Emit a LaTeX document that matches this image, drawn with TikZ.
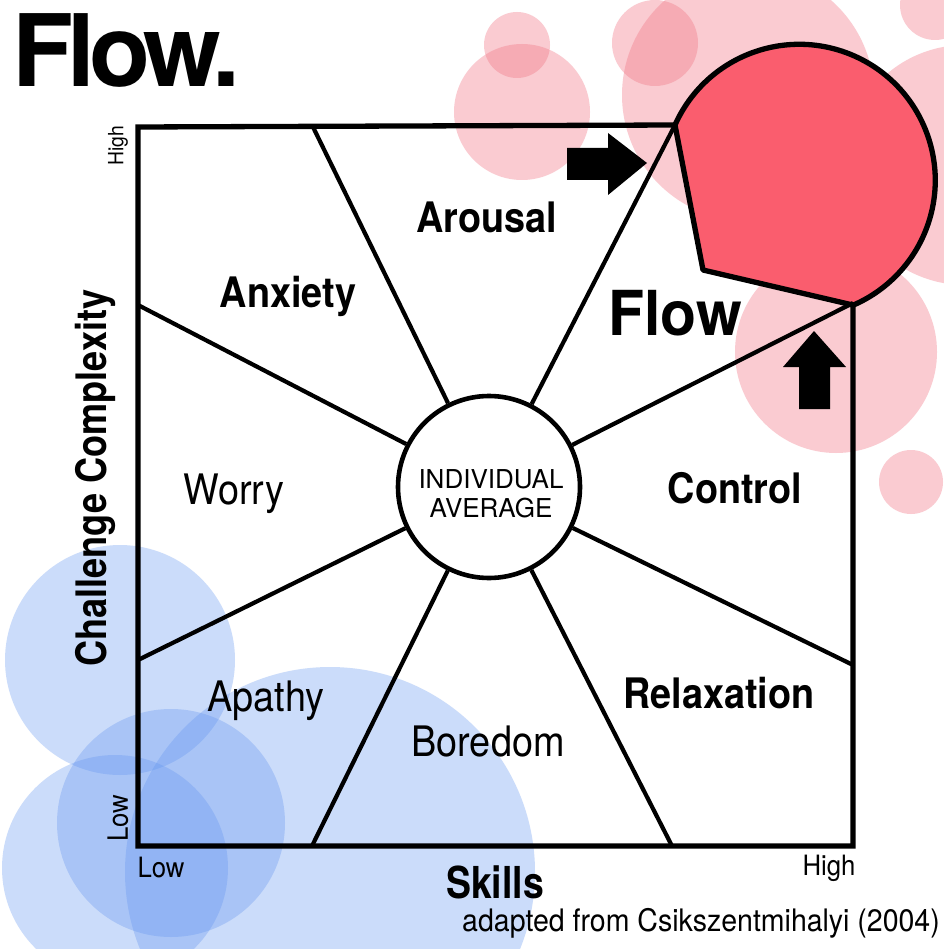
\documentclass[tikz,border=0pt]{standalone}
\usepackage{fontspec}
\setmainfont{TeX Gyre Heros}
\begin{document}
\begin{tikzpicture}[x=1pt,y=-1pt]
\definecolor{pinkc}{RGB}{242,120,135}
\definecolor{bluec}{RGB}{100,150,240}
\definecolor{flowred}{RGB}{250,93,110}
\tikzset{
 bub/.style={fill=pinkc,fill opacity=0.38},
 bbub/.style={fill=bluec,fill opacity=0.33},
 edge/.style={line width=5.3pt},
 ray/.style={line width=4.2pt},
 lbl/.style={font=\fontsize{42}{44}\selectfont, inner sep=0pt, anchor=base, xscale=0.9},
 blbl/.style={font=\bfseries\fontsize{42}{44}\selectfont, inner sep=0pt, anchor=base, xscale=0.9},
 small/.style={font=\fontsize{28}{30}\selectfont, inner sep=0pt},
 ctxt/.style={font=\fontsize{26}{28}\selectfont, inner sep=0pt, anchor=base},
 arrowshape/.style={fill=black},
}
\useasboundingbox[fill=white] (0,0) rectangle (943,949);
% pink bubbles
\fill[bub] (517,45) circle[radius=33];
\fill[bub] (522,112) circle[radius=68];
\fill[bub] (655,43) circle[radius=43];
\fill[bub] (748,95) circle[radius=126];
\fill[bub] (935,5) circle[radius=35];
\fill[bub] (965,165) circle[radius=120];
\fill[bub] (836,352) circle[radius=101];
\fill[bub] (911,482) circle[radius=32];
% blue bubbles
\fill[bbub] (120,660) circle[radius=115];
\fill[bbub] (330,872) circle[radius=205];
\fill[bbub] (171,823) circle[radius=114];
\fill[bbub] (115,868) circle[radius=113];
% title
\node[font=\bfseries\fontsize{100}{100}\selectfont\addfontfeature{LetterSpace=-6}, inner sep=0pt, anchor=base west] (title) at (12,87) {Flow.};
% frame
\coordinate (t1) at (313,127);
\coordinate (t2) at (675,125);
\coordinate (l1) at (138,305);
\coordinate (l2) at (138,660);
\coordinate (r1) at (853,303);
\coordinate (r2) at (853,665);
\coordinate (b1) at (312,846);
\coordinate (b2) at (672,846);
\draw[edge] (t2) -- (138,127) -- (138,846) -- (853,846) -- (r1);
% flow blob
\filldraw[fill=flowred, edge, line join=round] (t2) arc[start angle=204, end angle=426.6, radius=136] -- (703,270) -- cycle;
% centre
\node[circle, draw, line width=4.6pt, fill=white, minimum size=182pt, inner sep=0pt] (c) at (489,487) {};
\node[ctxt] (ind) at (491,488) {INDIVIDUAL};
\node[ctxt] (avg) at (491,517) {AVERAGE};
\foreach \p in {t1,t2,l1,l2,r1,r2,b1,b2} \draw[ray] (c) -- (\p);
% arrows
\fill[arrowshape] (567,148) -- (608,148) -- (608,133) -- (647,163) -- (608,195) -- (608,180) -- (567,180) -- cycle;
\fill[arrowshape] (799,409) -- (799,367) -- (783,367) -- (814,331) -- (846,367) -- (830,367) -- (830,409) -- cycle;
% labels
\node[blbl] (arousal) at (487,233) {Arousal};
\node[blbl] (anxiety) at (288,307) {Anxiety};
\node[font=\bfseries\fontsize{62}{64}\selectfont, inner sep=0pt, anchor=base, xscale=0.95] (flow) at (675,335) {Flow};
\node[lbl] (worry) at (234,504) {Worry};
\node[blbl] (control) at (735,503) {Control};
\node[lbl] (apathy) at (266,711) {Apathy};
\node[lbl] (boredom) at (488,756) {Boredom};
\node[blbl] (relax) at (719,708) {Relaxation};
% axes
\node[font=\bfseries\fontsize{42}{44}\selectfont, inner sep=0pt, rotate=90, xscale=0.86] (ylab) at (95,478) {Challenge Complexity};
\node[font=\fontsize{21}{23}\selectfont, inner sep=0pt, rotate=90, xscale=0.92] (yhigh) at (118,146) {High};
\node[small, rotate=90, xscale=0.92] (ylow) at (118,818) {Low};
\node[small, xscale=0.92] (xlow) at (161,867) {Low};
\node[small, xscale=0.92] (xhigh) at (829,868) {High};
\node[font=\bfseries\fontsize{44}{46}\selectfont, inner sep=0pt, anchor=base, xscale=0.85] (skills) at (495,898) {Skills};
\node[font=\fontsize{31}{33}\selectfont, inner sep=0pt, anchor=base west, xscale=0.92] (src) at (462,931) {adapted from Csikszentmihalyi (2004)};
\end{tikzpicture}
\end{document}
